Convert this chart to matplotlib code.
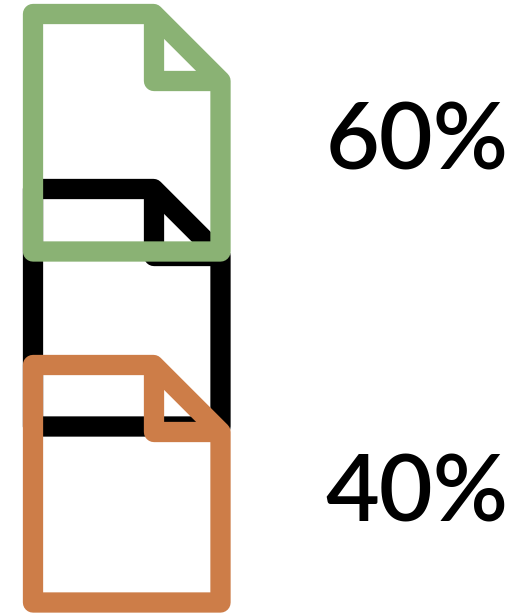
import matplotlib
matplotlib.use("Agg")
from matplotlib import pyplot as plt
from matplotlib.patches import Polygon

# the labels and the icon for each
share_labels = ["60%", "40%"]
label_colors = ["black", "black"]
icon_colors = ["black", "#8ab274", "#cd7d48"]
icon_tops = [189, 14, 365]  # black goes first, the other two sit over it
label_baselines = [169, 522]
label_center = 417

ICON_W = 187.5
ICON_H = 237.5
FOLD = 67
LINE = 14.6


def draw_icon(ax, left, top, color):
    """One page icon with a folded corner, outline only."""
    right = left + ICON_W
    bottom = top + ICON_H
    fold_x = right - FOLD
    fold_y = top + FOLD
    outline = [(left, top), (fold_x, top), (right, fold_y), (right, bottom), (left, bottom)]
    ax.add_patch(Polygon(outline, closed=True, fill=False, edgecolor=color, linewidth=LINE, joinstyle="round"))
    corner = [(fold_x, top), (fold_x, fold_y), (right, fold_y)]
    ax.add_patch(Polygon(corner, closed=False, fill=False, edgecolor=color, linewidth=LINE, joinstyle="round", capstyle="butt"))


fig = plt.figure(figsize=(5.18, 6.13), dpi=100)
ax = fig.add_axes([0, 0, 1, 1])
ax.set_xlim(0, 518)
ax.set_ylim(613, 0)
ax.axis("off")

for top, color in zip(icon_tops, icon_colors):
    draw_icon(ax, 33, top, color)

for label, base, color in zip(share_labels, label_baselines, label_colors):
    ax.text(label_center, base, label, color=color, fontsize=67, family="Lato", weight="semibold", ha="center", va="baseline")

fig.savefig("out.png", dpi=100)
